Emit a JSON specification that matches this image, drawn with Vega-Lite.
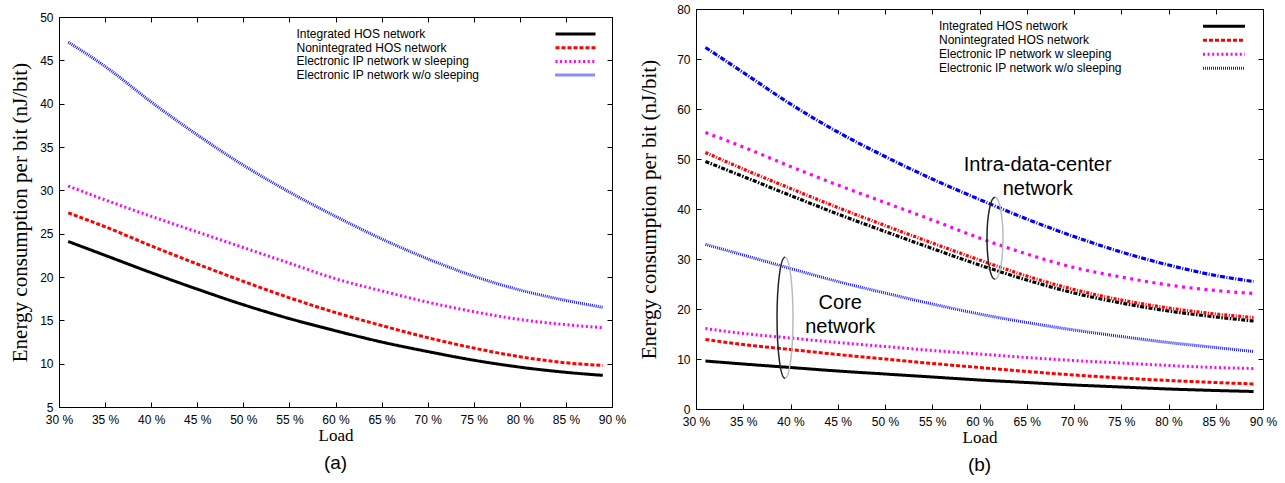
{
  "$schema": "https://vega.github.io/schema/vega-lite/v6.json",
  "padding": {"left": 9, "top": 2, "right": 5, "bottom": 0},
  "config": {
    "view": {"stroke": "black", "strokeWidth": 1},
    "axis": {"grid": false, "domain": false, "tickColor": "black", "tickSize": -5, "tickWidth": 1,
      "labelFont": "Liberation Sans", "labelFontSize": 12, "labelColor": "black",
      "titleFont": "Liberation Serif", "titleFontWeight": "normal", "titleColor": "black",
      "labelFlush": false, "labelOverlap": false, "minExtent": 0, "labelPadding": 12},
    "legend": {"symbolStrokeWidth": 3, "labelFont": "Liberation Sans", "labelFontSize": 12,
      "labelColor": "black", "labelLimit": 330, "padding": 0},
    "title": {"font": "Liberation Sans", "fontSize": 19, "fontWeight": "normal", "color": "black"}
  },
  "datasets": {
    "a": [
      {"series": "Integrated HOS network", "load": 31, "energy": 24.1},
      {"series": "Integrated HOS network", "load": 35, "energy": 22.5},
      {"series": "Integrated HOS network", "load": 40, "energy": 20.5},
      {"series": "Integrated HOS network", "load": 45, "energy": 18.6},
      {"series": "Integrated HOS network", "load": 50, "energy": 16.8},
      {"series": "Integrated HOS network", "load": 55, "energy": 15.2},
      {"series": "Integrated HOS network", "load": 60, "energy": 13.8},
      {"series": "Integrated HOS network", "load": 65, "energy": 12.5},
      {"series": "Integrated HOS network", "load": 70, "energy": 11.4},
      {"series": "Integrated HOS network", "load": 75, "energy": 10.4},
      {"series": "Integrated HOS network", "load": 80, "energy": 9.6},
      {"series": "Integrated HOS network", "load": 85, "energy": 9.0},
      {"series": "Integrated HOS network", "load": 89, "energy": 8.65},
      {"series": "Nonintegrated HOS network", "load": 31, "energy": 27.4},
      {"series": "Nonintegrated HOS network", "load": 35, "energy": 25.8},
      {"series": "Nonintegrated HOS network", "load": 40, "energy": 23.6},
      {"series": "Nonintegrated HOS network", "load": 45, "energy": 21.5},
      {"series": "Nonintegrated HOS network", "load": 50, "energy": 19.5},
      {"series": "Nonintegrated HOS network", "load": 55, "energy": 17.6},
      {"series": "Nonintegrated HOS network", "load": 60, "energy": 15.9},
      {"series": "Nonintegrated HOS network", "load": 65, "energy": 14.4},
      {"series": "Nonintegrated HOS network", "load": 70, "energy": 13.0},
      {"series": "Nonintegrated HOS network", "load": 75, "energy": 11.8},
      {"series": "Nonintegrated HOS network", "load": 80, "energy": 10.8},
      {"series": "Nonintegrated HOS network", "load": 85, "energy": 10.1},
      {"series": "Nonintegrated HOS network", "load": 89, "energy": 9.8},
      {"series": "Electronic IP network w sleeping", "load": 31, "energy": 30.5},
      {"series": "Electronic IP network w sleeping", "load": 35, "energy": 28.9},
      {"series": "Electronic IP network w sleeping", "load": 40, "energy": 27.0},
      {"series": "Electronic IP network w sleeping", "load": 45, "energy": 25.2},
      {"series": "Electronic IP network w sleeping", "load": 50, "energy": 23.4},
      {"series": "Electronic IP network w sleeping", "load": 55, "energy": 21.6},
      {"series": "Electronic IP network w sleeping", "load": 60, "energy": 19.8},
      {"series": "Electronic IP network w sleeping", "load": 65, "energy": 18.4},
      {"series": "Electronic IP network w sleeping", "load": 70, "energy": 17.1},
      {"series": "Electronic IP network w sleeping", "load": 75, "energy": 16.0},
      {"series": "Electronic IP network w sleeping", "load": 80, "energy": 15.1},
      {"series": "Electronic IP network w sleeping", "load": 85, "energy": 14.5},
      {"series": "Electronic IP network w sleeping", "load": 89, "energy": 14.15},
      {"series": "Electronic IP network w/o sleeping", "load": 31, "energy": 47.1},
      {"series": "Electronic IP network w/o sleeping", "load": 35, "energy": 44.3},
      {"series": "Electronic IP network w/o sleeping", "load": 40, "energy": 40.2},
      {"series": "Electronic IP network w/o sleeping", "load": 45, "energy": 36.4},
      {"series": "Electronic IP network w/o sleeping", "load": 50, "energy": 32.9},
      {"series": "Electronic IP network w/o sleeping", "load": 55, "energy": 29.8},
      {"series": "Electronic IP network w/o sleeping", "load": 60, "energy": 27.0},
      {"series": "Electronic IP network w/o sleeping", "load": 65, "energy": 24.4},
      {"series": "Electronic IP network w/o sleeping", "load": 70, "energy": 22.1},
      {"series": "Electronic IP network w/o sleeping", "load": 75, "energy": 20.1},
      {"series": "Electronic IP network w/o sleeping", "load": 80, "energy": 18.5},
      {"series": "Electronic IP network w/o sleeping", "load": 85, "energy": 17.3},
      {"series": "Electronic IP network w/o sleeping", "load": 89, "energy": 16.5}
    ],
    "b": [
      {"network": "Core", "series": "Integrated HOS network", "load": 31, "energy": 9.6},
      {"network": "Core", "series": "Integrated HOS network", "load": 35, "energy": 9.0},
      {"network": "Core", "series": "Integrated HOS network", "load": 40, "energy": 8.3},
      {"network": "Core", "series": "Integrated HOS network", "load": 45, "energy": 7.6},
      {"network": "Core", "series": "Integrated HOS network", "load": 50, "energy": 7.0},
      {"network": "Core", "series": "Integrated HOS network", "load": 55, "energy": 6.4},
      {"network": "Core", "series": "Integrated HOS network", "load": 60, "energy": 5.8},
      {"network": "Core", "series": "Integrated HOS network", "load": 65, "energy": 5.3},
      {"network": "Core", "series": "Integrated HOS network", "load": 70, "energy": 4.8},
      {"network": "Core", "series": "Integrated HOS network", "load": 75, "energy": 4.4},
      {"network": "Core", "series": "Integrated HOS network", "load": 80, "energy": 4.0},
      {"network": "Core", "series": "Integrated HOS network", "load": 85, "energy": 3.7},
      {"network": "Core", "series": "Integrated HOS network", "load": 89, "energy": 3.5},
      {"network": "Core", "series": "Nonintegrated HOS network", "load": 31, "energy": 13.9},
      {"network": "Core", "series": "Nonintegrated HOS network", "load": 35, "energy": 12.9},
      {"network": "Core", "series": "Nonintegrated HOS network", "load": 40, "energy": 11.9},
      {"network": "Core", "series": "Nonintegrated HOS network", "load": 45, "energy": 10.9},
      {"network": "Core", "series": "Nonintegrated HOS network", "load": 50, "energy": 10.0},
      {"network": "Core", "series": "Nonintegrated HOS network", "load": 55, "energy": 9.1},
      {"network": "Core", "series": "Nonintegrated HOS network", "load": 60, "energy": 8.3},
      {"network": "Core", "series": "Nonintegrated HOS network", "load": 65, "energy": 7.5},
      {"network": "Core", "series": "Nonintegrated HOS network", "load": 70, "energy": 6.8},
      {"network": "Core", "series": "Nonintegrated HOS network", "load": 75, "energy": 6.2},
      {"network": "Core", "series": "Nonintegrated HOS network", "load": 80, "energy": 5.7},
      {"network": "Core", "series": "Nonintegrated HOS network", "load": 85, "energy": 5.3},
      {"network": "Core", "series": "Nonintegrated HOS network", "load": 89, "energy": 5.0},
      {"network": "Core", "series": "Electronic IP network w sleeping", "load": 31, "energy": 16.1},
      {"network": "Core", "series": "Electronic IP network w sleeping", "load": 35, "energy": 15.1},
      {"network": "Core", "series": "Electronic IP network w sleeping", "load": 40, "energy": 14.2},
      {"network": "Core", "series": "Electronic IP network w sleeping", "load": 45, "energy": 13.3},
      {"network": "Core", "series": "Electronic IP network w sleeping", "load": 50, "energy": 12.5},
      {"network": "Core", "series": "Electronic IP network w sleeping", "load": 55, "energy": 11.7},
      {"network": "Core", "series": "Electronic IP network w sleeping", "load": 60, "energy": 11.0},
      {"network": "Core", "series": "Electronic IP network w sleeping", "load": 65, "energy": 10.3},
      {"network": "Core", "series": "Electronic IP network w sleeping", "load": 70, "energy": 9.7},
      {"network": "Core", "series": "Electronic IP network w sleeping", "load": 75, "energy": 9.2},
      {"network": "Core", "series": "Electronic IP network w sleeping", "load": 80, "energy": 8.7},
      {"network": "Core", "series": "Electronic IP network w sleeping", "load": 85, "energy": 8.3},
      {"network": "Core", "series": "Electronic IP network w sleeping", "load": 89, "energy": 8.1},
      {"network": "Core", "series": "Electronic IP network w/o sleeping", "load": 31, "energy": 32.9},
      {"network": "Core", "series": "Electronic IP network w/o sleeping", "load": 35, "energy": 30.8},
      {"network": "Core", "series": "Electronic IP network w/o sleeping", "load": 40, "energy": 28.1},
      {"network": "Core", "series": "Electronic IP network w/o sleeping", "load": 45, "energy": 25.5},
      {"network": "Core", "series": "Electronic IP network w/o sleeping", "load": 50, "energy": 23.2},
      {"network": "Core", "series": "Electronic IP network w/o sleeping", "load": 55, "energy": 21.0},
      {"network": "Core", "series": "Electronic IP network w/o sleeping", "load": 60, "energy": 19.0},
      {"network": "Core", "series": "Electronic IP network w/o sleeping", "load": 65, "energy": 17.3},
      {"network": "Core", "series": "Electronic IP network w/o sleeping", "load": 70, "energy": 15.8},
      {"network": "Core", "series": "Electronic IP network w/o sleeping", "load": 75, "energy": 14.5},
      {"network": "Core", "series": "Electronic IP network w/o sleeping", "load": 80, "energy": 13.3},
      {"network": "Core", "series": "Electronic IP network w/o sleeping", "load": 85, "energy": 12.3},
      {"network": "Core", "series": "Electronic IP network w/o sleeping", "load": 89, "energy": 11.5},
      {"network": "Intra", "series": "Integrated HOS network", "load": 31, "energy": 49.5},
      {"network": "Intra", "series": "Integrated HOS network", "load": 35, "energy": 46.5},
      {"network": "Intra", "series": "Integrated HOS network", "load": 40, "energy": 42.7},
      {"network": "Intra", "series": "Integrated HOS network", "load": 45, "energy": 39.0},
      {"network": "Intra", "series": "Integrated HOS network", "load": 50, "energy": 35.5},
      {"network": "Intra", "series": "Integrated HOS network", "load": 55, "energy": 32.1},
      {"network": "Intra", "series": "Integrated HOS network", "load": 60, "energy": 28.8},
      {"network": "Intra", "series": "Integrated HOS network", "load": 65, "energy": 25.8},
      {"network": "Intra", "series": "Integrated HOS network", "load": 70, "energy": 23.2},
      {"network": "Intra", "series": "Integrated HOS network", "load": 75, "energy": 21.2},
      {"network": "Intra", "series": "Integrated HOS network", "load": 80, "energy": 19.6},
      {"network": "Intra", "series": "Integrated HOS network", "load": 85, "energy": 18.4},
      {"network": "Intra", "series": "Integrated HOS network", "load": 89, "energy": 17.6},
      {"network": "Intra", "series": "Nonintegrated HOS network", "load": 31, "energy": 51.3},
      {"network": "Intra", "series": "Nonintegrated HOS network", "load": 35, "energy": 48.0},
      {"network": "Intra", "series": "Nonintegrated HOS network", "load": 40, "energy": 44.1},
      {"network": "Intra", "series": "Nonintegrated HOS network", "load": 45, "energy": 40.3},
      {"network": "Intra", "series": "Nonintegrated HOS network", "load": 50, "energy": 36.7},
      {"network": "Intra", "series": "Nonintegrated HOS network", "load": 55, "energy": 33.2},
      {"network": "Intra", "series": "Nonintegrated HOS network", "load": 60, "energy": 29.8},
      {"network": "Intra", "series": "Nonintegrated HOS network", "load": 65, "energy": 26.6},
      {"network": "Intra", "series": "Nonintegrated HOS network", "load": 70, "energy": 23.9},
      {"network": "Intra", "series": "Nonintegrated HOS network", "load": 75, "energy": 21.8},
      {"network": "Intra", "series": "Nonintegrated HOS network", "load": 80, "energy": 20.2},
      {"network": "Intra", "series": "Nonintegrated HOS network", "load": 85, "energy": 19.0},
      {"network": "Intra", "series": "Nonintegrated HOS network", "load": 89, "energy": 18.3},
      {"network": "Intra", "series": "Electronic IP network w sleeping", "load": 31, "energy": 55.3},
      {"network": "Intra", "series": "Electronic IP network w sleeping", "load": 35, "energy": 52.4},
      {"network": "Intra", "series": "Electronic IP network w sleeping", "load": 40, "energy": 48.5},
      {"network": "Intra", "series": "Electronic IP network w sleeping", "load": 45, "energy": 44.8},
      {"network": "Intra", "series": "Electronic IP network w sleeping", "load": 50, "energy": 41.3},
      {"network": "Intra", "series": "Electronic IP network w sleeping", "load": 55, "energy": 37.8},
      {"network": "Intra", "series": "Electronic IP network w sleeping", "load": 60, "energy": 34.2},
      {"network": "Intra", "series": "Electronic IP network w sleeping", "load": 65, "energy": 31.0},
      {"network": "Intra", "series": "Electronic IP network w sleeping", "load": 70, "energy": 28.3},
      {"network": "Intra", "series": "Electronic IP network w sleeping", "load": 75, "energy": 26.4},
      {"network": "Intra", "series": "Electronic IP network w sleeping", "load": 80, "energy": 24.8},
      {"network": "Intra", "series": "Electronic IP network w sleeping", "load": 85, "energy": 23.7},
      {"network": "Intra", "series": "Electronic IP network w sleeping", "load": 89, "energy": 23.1},
      {"network": "Intra", "series": "Electronic IP network w/o sleeping", "load": 31, "energy": 72.3},
      {"network": "Intra", "series": "Electronic IP network w/o sleeping", "load": 35, "energy": 67.3},
      {"network": "Intra", "series": "Electronic IP network w/o sleeping", "load": 40, "energy": 61.0},
      {"network": "Intra", "series": "Electronic IP network w/o sleeping", "load": 45, "energy": 55.4},
      {"network": "Intra", "series": "Electronic IP network w/o sleeping", "load": 50, "energy": 50.5},
      {"network": "Intra", "series": "Electronic IP network w/o sleeping", "load": 55, "energy": 46.0},
      {"network": "Intra", "series": "Electronic IP network w/o sleeping", "load": 60, "energy": 41.9},
      {"network": "Intra", "series": "Electronic IP network w/o sleeping", "load": 65, "energy": 38.0},
      {"network": "Intra", "series": "Electronic IP network w/o sleeping", "load": 70, "energy": 34.5},
      {"network": "Intra", "series": "Electronic IP network w/o sleeping", "load": 75, "energy": 31.4},
      {"network": "Intra", "series": "Electronic IP network w/o sleeping", "load": 80, "energy": 28.8},
      {"network": "Intra", "series": "Electronic IP network w/o sleeping", "load": 85, "energy": 26.7},
      {"network": "Intra", "series": "Electronic IP network w/o sleeping", "load": 89, "energy": 25.5}
    ]
  },
  "spacing": 11,
  "hconcat": [
    {
      "spacing": -6,
      "vconcat": [
        {
          "width": 553,
          "height": 2,
          "view": {"stroke": "transparent", "fill": "transparent"},
          "data": {"values": [{}]},
          "mark": {"type": "text", "text": ""},
          "encoding": {}
        },
        {
          "width": 553,
          "height": 390,
          "title": {"text": "(a)", "orient": "bottom", "offset": 11},
          "data": {"name": "a"},
          "layer": [
            {
              "mark": {"type": "line", "strokeWidth": 3, "interpolate": "monotone"},
              "encoding": {
                "x": {"field": "load", "type": "quantitative",
                  "scale": {"domain": [30, 90], "nice": false, "zero": false},
                  "axis": {"values": [30, 35, 40, 45, 50, 55, 60, 65, 70, 75, 80, 85, 90], "labelExpr": "datum.value + ' %'",
                    "title": "Load", "titleFontSize": 17, "titlePadding": 2}},
                "y": {"field": "energy", "type": "quantitative",
                  "scale": {"domain": [5, 50], "nice": false, "zero": false},
                  "axis": {"values": [5, 10, 15, 20, 25, 30, 35, 40, 45, 50], "labelPadding": 11,
                    "title": "Energy consumption per bit (nJ/bit)", "titleFontSize": 21, "titlePadding": 9}},
                "color": {"field": "series", "type": "nominal",
                  "scale": {"domain": ["Integrated HOS network", "Nonintegrated HOS network", "Electronic IP network w sleeping", "Electronic IP network w/o sleeping"],
                    "range": ["#000000", "#ff0000", "#ff00ff", "#1a1aff"]},
                  "legend": {"title": null, "orient": "none", "legendX": 510.5, "legendY": 19, "symbolType": "M-5,0H5", "symbolSize": 64, "labelOffset": -285, "rowPadding": 1.7}},
                "strokeDash": {"field": "series", "type": "nominal",
                  "scale": {"domain": ["Integrated HOS network", "Nonintegrated HOS network", "Electronic IP network w sleeping", "Electronic IP network w/o sleeping"],
                    "range": [[1, 0], [4, 2], [2, 2.6], [1, 1]]},
                  "legend": {"title": null, "orient": "none", "legendX": 510.5, "legendY": 19, "symbolType": "M-5,0H5", "symbolSize": 64, "labelOffset": -285, "rowPadding": 1.7}}
              }
            },
            {
              "mark": {"type": "line", "opacity": 0},
              "encoding": {
                "x": {"field": "load", "type": "quantitative",
                  "scale": {"domain": [30, 90], "nice": false, "zero": false},
                  "axis": {"orient": "top", "labels": false, "title": null,
                    "values": [30, 35, 40, 45, 50, 55, 60, 65, 70, 75, 80, 85, 90]}},
                "y": {"field": "energy", "type": "quantitative",
                  "scale": {"domain": [5, 50], "nice": false, "zero": false},
                  "axis": {"orient": "right", "labels": false, "title": null,
                    "values": [5, 10, 15, 20, 25, 30, 35, 40, 45, 50]}},
                "detail": {"field": "series"}
              }
            }
          ],
          "resolve": {"axis": {"x": "independent", "y": "independent"}}
        }
      ]
    },
    {
      "width": 567,
      "height": 400,
      "title": {"text": "(b)", "orient": "bottom", "offset": 11},
      "data": {"name": "b"},
      "layer": [
        {
          "transform": [{"filter": "datum.network == 'Core'"}],
          "mark": {"type": "line", "strokeWidth": 3, "interpolate": "monotone"},
          "encoding": {
            "x": {"field": "load", "type": "quantitative",
              "scale": {"domain": [30, 90], "nice": false, "zero": false},
              "axis": {"values": [30, 35, 40, 45, 50, 55, 60, 65, 70, 75, 80, 85, 90], "labelExpr": "datum.value + ' %'",
                "title": "Load", "titleFontSize": 17, "titlePadding": 2}},
            "y": {"field": "energy", "type": "quantitative",
              "scale": {"domain": [0, 80], "nice": false},
              "axis": {"values": [0, 10, 20, 30, 40, 50, 60, 70, 80], "labelPadding": 11,
                "title": "Energy consumption per bit (nJ/bit)", "titleFontSize": 21, "titlePadding": 17}},
            "color": {"field": "series", "type": "nominal",
              "scale": {"domain": ["Integrated HOS network", "Nonintegrated HOS network", "Electronic IP network w sleeping", "Electronic IP network w/o sleeping"],
                "range": ["#000000", "#ff0000", "#ff00ff", "#1a1aff"]},
              "legend": {"title": null, "orient": "none", "legendX": 522, "legendY": 11.2, "symbolType": "M-5,0H5", "symbolSize": 70.56, "labelOffset": -291, "rowPadding": 2}},
            "strokeDash": {"field": "series", "type": "nominal",
              "scale": {"domain": ["Integrated HOS network", "Nonintegrated HOS network", "Electronic IP network w sleeping", "Electronic IP network w/o sleeping"],
                "range": [[1, 0], [4, 2], [2, 2.6], [1, 1]]},
              "legend": {"title": null, "orient": "none", "legendX": 522, "legendY": 11.2, "symbolType": "M-5,0H5", "symbolSize": 70.56, "labelOffset": -291, "rowPadding": 2}}
          }
        },
        {
          "transform": [{"filter": "datum.network == 'Intra'"}],
          "mark": {"type": "line", "strokeWidth": 3.2, "interpolate": "monotone"},
          "encoding": {
            "x": {"field": "load", "type": "quantitative",
              "scale": {"domain": [30, 90], "nice": false, "zero": false},
              "axis": {"orient": "top", "labels": false, "title": null,
                "values": [30, 35, 40, 45, 50, 55, 60, 65, 70, 75, 80, 85, 90]}},
            "y": {"field": "energy", "type": "quantitative",
              "scale": {"domain": [0, 80], "nice": false},
              "axis": {"orient": "right", "labels": false, "title": null,
                "values": [0, 10, 20, 30, 40, 50, 60, 70, 80]}},
            "color": {"field": "series", "type": "nominal",
              "scale": {"domain": ["Integrated HOS network", "Nonintegrated HOS network", "Electronic IP network w sleeping", "Electronic IP network w/o sleeping"],
                "range": ["#000000", "#ff0000", "#ff00ff", "#0000ff"]},
              "legend": null},
            "strokeDash": {"field": "series", "type": "nominal",
              "scale": {"domain": ["Integrated HOS network", "Nonintegrated HOS network", "Electronic IP network w sleeping", "Electronic IP network w/o sleeping"],
                "range": [[4, 1.5, 1.5, 1.5], [3, 1.5, 1, 1.5], [3, 4.5], [5, 1.5, 1, 1.5]]},
              "legend": null}
          }
        },
        {
          "data": {"values": [{"group": "Core", "load": 39.42, "energy": 18.24}]},
          "mark": {"type": "point", "shape": "M0,-1A0.132,1 0 0 0 0,1", "size": 14641, "filled": false, "stroke": "#222222", "strokeWidth": 1.5, "opacity": 1},
          "encoding": {
            "x": {"field": "load", "type": "quantitative", "scale": {"domain": [30, 90], "nice": false, "zero": false}, "axis": null},
            "y": {"field": "energy", "type": "quantitative", "scale": {"domain": [0, 80], "nice": false}, "axis": null}
          }
        },
        {
          "data": {"values": [{"group": "Core", "load": 39.42, "energy": 18.24}]},
          "mark": {"type": "point", "shape": "M0,-1A0.132,1 0 0 1 0,1", "size": 14641, "filled": false, "stroke": "#bbbbbb", "strokeWidth": 1.5, "opacity": 1},
          "encoding": {
            "x": {"field": "load", "type": "quantitative", "scale": {"domain": [30, 90], "nice": false, "zero": false}, "axis": null},
            "y": {"field": "energy", "type": "quantitative", "scale": {"domain": [0, 80], "nice": false}, "axis": null}
          }
        },
        {
          "data": {"values": [{"group": "Intra", "load": 61.64, "energy": 34.14}]},
          "mark": {"type": "point", "shape": "M0,-1A0.195,1 0 0 0 0,1", "size": 6724, "filled": false, "stroke": "#222222", "strokeWidth": 1.5, "opacity": 1},
          "encoding": {
            "x": {"field": "load", "type": "quantitative", "scale": {"domain": [30, 90], "nice": false, "zero": false}, "axis": null},
            "y": {"field": "energy", "type": "quantitative", "scale": {"domain": [0, 80], "nice": false}, "axis": null}
          }
        },
        {
          "data": {"values": [{"group": "Intra", "load": 61.64, "energy": 34.14}]},
          "mark": {"type": "point", "shape": "M0,-1A0.195,1 0 0 1 0,1", "size": 6724, "filled": false, "stroke": "#bbbbbb", "strokeWidth": 1.5, "opacity": 1},
          "encoding": {
            "x": {"field": "load", "type": "quantitative", "scale": {"domain": [30, 90], "nice": false, "zero": false}, "axis": null},
            "y": {"field": "energy", "type": "quantitative", "scale": {"domain": [0, 80], "nice": false}, "axis": null}
          }
        },
        {
          "data": {"values": [
            {"label": "Core\nnetwork", "load": 45.26, "energy": 21.2},
            {"label": "Intra-data-center\nnetwork", "load": 66.16, "energy": 48.8}
          ]},
          "mark": {"type": "text", "font": "Liberation Sans", "fontSize": 20, "lineBreak": "\n", "lineHeight": 24, "align": "center", "baseline": "middle", "color": "black"},
          "encoding": {
            "x": {"field": "load", "type": "quantitative", "scale": {"domain": [30, 90], "nice": false, "zero": false}, "axis": null},
            "y": {"field": "energy", "type": "quantitative", "scale": {"domain": [0, 80], "nice": false}, "axis": null},
            "text": {"field": "label"}
          }
        }
      ],
      "resolve": {"scale": {"color": "independent", "strokeDash": "independent"}, "axis": {"x": "independent", "y": "independent"}}
    }
  ]
}
